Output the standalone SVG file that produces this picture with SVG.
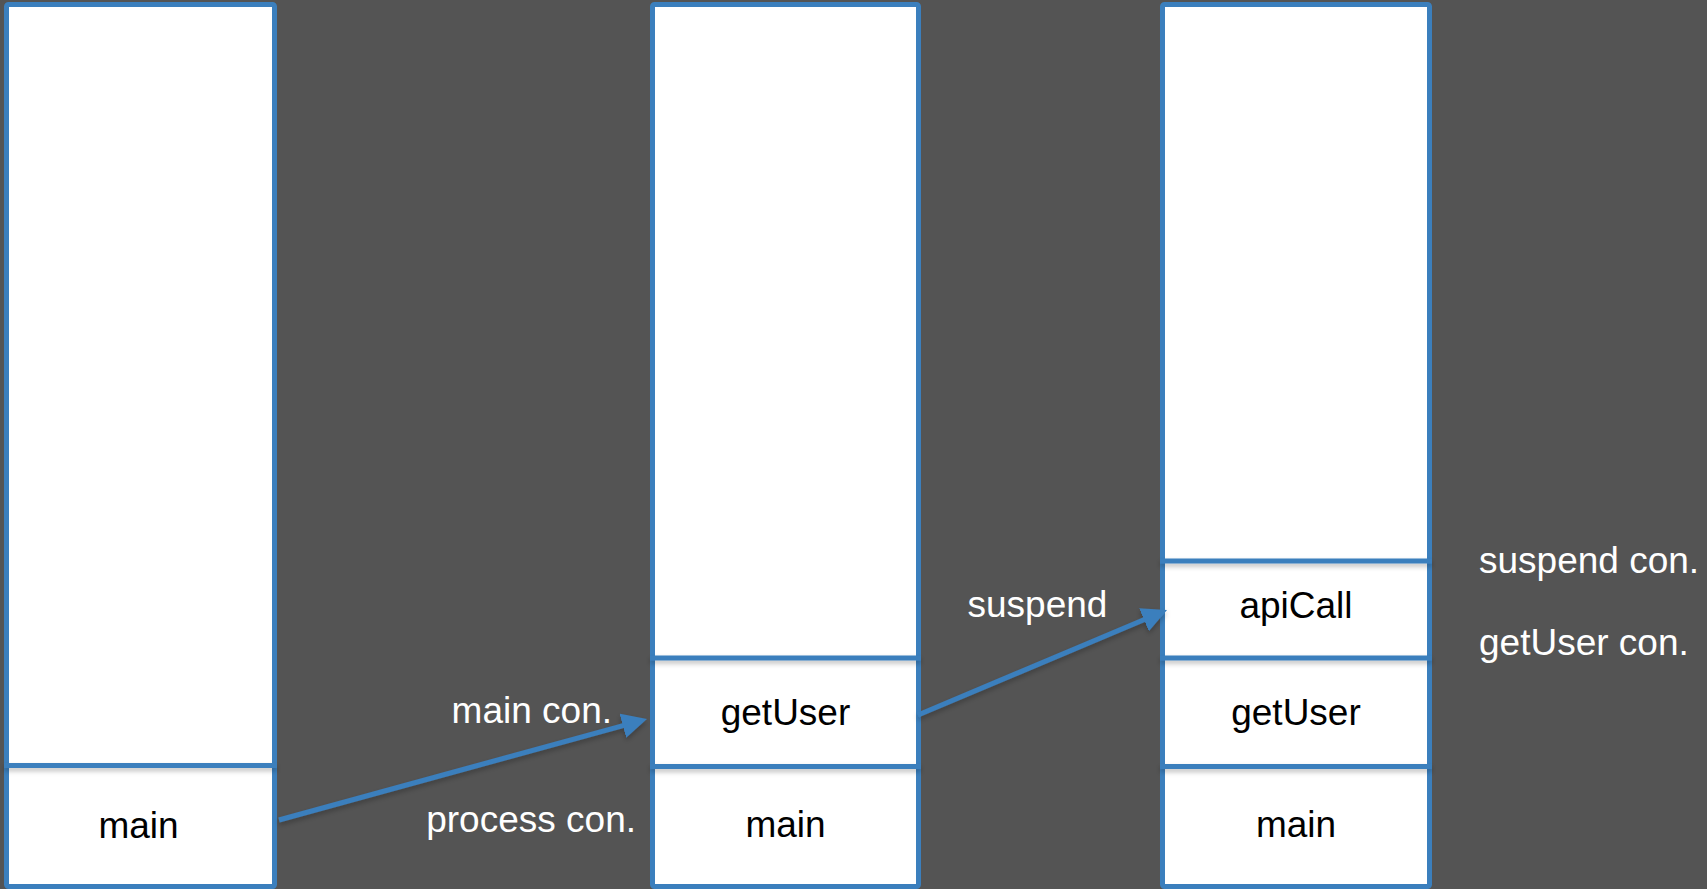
<svg xmlns="http://www.w3.org/2000/svg" width="1707" height="889" viewBox="0 0 1707 889">
<style>
.col{fill:#ffffff;stroke:#3b7fbd;stroke-width:5}
.div{fill:#3b7fbd;filter:url(#sh)}
.lbl{font-family:"Liberation Sans",Arial,sans-serif;font-size:37px;fill:#000000;text-anchor:middle}
.wl{font-family:"Liberation Sans",Arial,sans-serif;font-size:37px;fill:#ffffff}
.conn{stroke:#3b7fbd;stroke-width:5;fill:none;marker-end:url(#ah);filter:url(#sh)}
</style>
<defs>
<filter id="sh" filterUnits="userSpaceOnUse" x="0" y="0" width="1707" height="889">
<feDropShadow dx="0" dy="3" stdDeviation="2.5" flood-color="#000000" flood-opacity="0.25"/>
</filter>
<marker id="ah" markerUnits="userSpaceOnUse" markerWidth="25" markerHeight="25" refX="5" refY="12.5" orient="auto">
<path d="M0,0 L25,12.5 L0,25 z" fill="#3b7fbd"/>
</marker>
</defs>
<rect width="1707" height="889" fill="#545454"/>
<g id="stack1">
<rect class="col" x="6.5" y="4.5" width="268" height="882" rx="2"/>
<g id="stack1-main">
<rect class="div" x="4" y="763" width="273" height="5"/>
<text class="lbl" x="138.5" y="838">main</text>
</g>
</g>
<g id="stack2">
<rect class="col" x="652.5" y="4.5" width="266" height="882" rx="2"/>
<g id="stack2-getUser">
<rect class="div" x="650" y="655.5" width="271" height="5"/>
<text class="lbl" x="785.5" y="725">getUser</text>
</g>
<g id="stack2-main">
<rect class="div" x="650" y="764" width="271" height="5"/>
<text class="lbl" x="785.5" y="837">main</text>
</g>
</g>
<g id="stack3">
<rect class="col" x="1162.5" y="4.5" width="267" height="882" rx="2"/>
<g id="stack3-apiCall">
<rect class="div" x="1160" y="558.5" width="272" height="5"/>
<text class="lbl" x="1296" y="618">apiCall</text>
</g>
<g id="stack3-getUser">
<rect class="div" x="1160" y="655.5" width="272" height="5"/>
<text class="lbl" x="1296" y="725">getUser</text>
</g>
<g id="stack3-main">
<rect class="div" x="1160" y="764" width="272" height="5"/>
<text class="lbl" x="1296" y="837">main</text>
</g>
</g>
<g id="connectors">
<line class="conn" x1="279" y1="820" x2="627.7" y2="724.3"/>
<line class="conn" x1="918" y1="715" x2="1148.6" y2="617.8"/>
</g>
<g id="labels">
<text class="wl" x="612" y="723" text-anchor="end">main con.</text>
<text class="wl" x="636" y="832" text-anchor="end">process con.</text>
<text class="wl" x="1037.5" y="617" text-anchor="middle">suspend</text>
<text class="wl" x="1479" y="573">suspend con.</text>
<text class="wl" x="1479" y="655">getUser con.</text>
</g>
</svg>
